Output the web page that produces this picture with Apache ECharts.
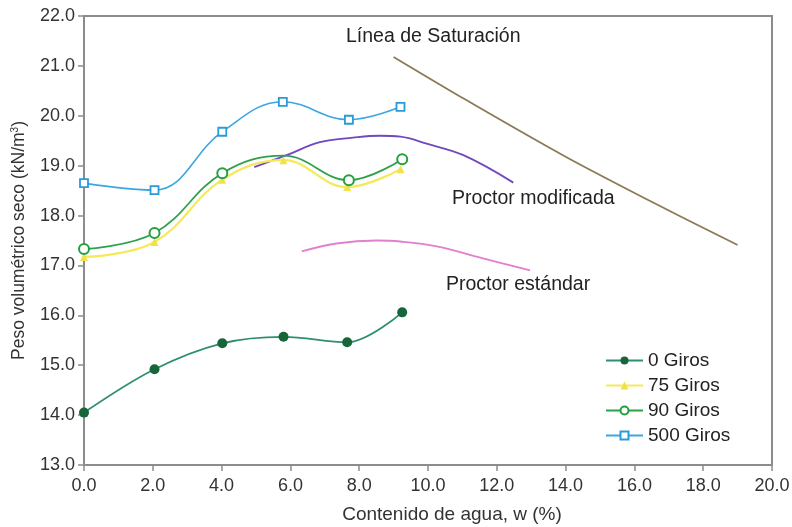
<!DOCTYPE html>
<html>
<head>
<meta charset="utf-8">
<script src="https://cdn.jsdelivr.net/npm/echarts@6/dist/echarts.min.js"></script>
<style>html,body{margin:0;padding:0;background:#fff}#c{width:792px;height:527px}</style>
</head>
<body>
<div id="c"></div>
<script>
var xTicks = [0,2,4,6,8,10,12,14,16,18,20];
var yTicks = [13,14,15,16,17,18,19,20,21,22];

var giros0 = [[0,14.05],[2.05,14.92],[4.02,15.44],[5.8,15.57],[7.65,15.46],[9.25,16.06]];
var giros75 = [[0,17.17],[2.05,17.47],[4.02,18.72],[5.8,19.11],[7.65,18.57],[9.2,18.93]];
var giros90 = [[0,17.33],[2.05,17.65],[4.02,18.85],[5.8,19.2],[7.7,18.71],[9.25,19.13]];
var giros500 = [[0,18.65],[2.05,18.51],[4.02,19.68],[5.78,20.28],[7.7,19.92],[9.2,20.18]];
var proctorMod = [[4.95,18.97],[5.89,19.21],[6.86,19.47],[7.82,19.56],[8.6,19.6],[9.2,19.58],[9.96,19.44],[11.03,19.21],[12.48,18.66]];
var proctorStd = [[6.33,17.28],[7.34,17.44],[8.51,17.5],[9.19,17.48],[10.25,17.38],[11.6,17.14],[12.97,16.9]];
var saturacion = [[9.0,21.18],[11.1,20.32],[14.0,19.18],[17.0,18.1],[19.0,17.41]];

var chart = echarts.init(document.getElementById('c'));
var font = 'Liberation Sans, Arial, sans-serif';
var axisCol = '#8c8c8c';
chart.setOption({
  animation: false,
  grid: {left: 84, right: 20, top: 16, bottom: 62, show: true, borderColor: axisCol, borderWidth: 2, containLabel: false, outerBoundsMode: 'none'},
  xAxis: {
    type: 'value', min: 0, max: 20, interval: 2,
    name: 'Contenido de agua, w (%)', nameLocation: 'middle', nameGap: 40,
    nameTextStyle: {fontFamily: font, fontSize: 19, color: '#333', padding: [0, 0, 0, 48]},
    axisLine: {lineStyle: {color: axisCol, width: 2}},
    axisTick: {show: true, length: 6, lineStyle: {color: axisCol, width: 1.5}},
    axisLabel: {fontFamily: font, fontSize: 18, color: '#333', margin: 12, formatter: function(v){return v.toFixed(1);}},
    splitLine: {show: false}
  },
  yAxis: {
    type: 'value', min: 13, max: 22, interval: 1,
    name: 'Peso volumétrico seco (kN/m{sup|3})', nameLocation: 'middle', nameGap: 56,
    nameTextStyle: {fontFamily: font, fontSize: 17.5, color: '#333', rich: {sup: {fontFamily: font, fontSize: 10, color: '#333', verticalAlign: 'top', padding: [0,0,8,0]}}},
    axisLine: {show: true, lineStyle: {color: axisCol, width: 2}},
    axisTick: {show: true, length: 6, lineStyle: {color: axisCol, width: 1.5}},
    axisLabel: {fontFamily: font, fontSize: 18, color: '#333', margin: 9, formatter: function(v){return v.toFixed(1);}},
    splitLine: {show: false}
  },
  legend: {
    data: ['0 Giros','75 Giros','90 Giros','500 Giros'],
    orient: 'vertical', left: 600, top: 346, itemWidth: 37, itemHeight: 10, itemGap: 6,
    textStyle: {fontFamily: font, fontSize: 19, color: '#222'}
  },
  graphic: [
    {type: 'text', left: 346, top: 27, style: {text: 'Línea de Saturación', font: '19.5px ' + font, fill: '#222'}},
    {type: 'text', left: 452, top: 189, style: {text: 'Proctor modificada', font: '19.5px ' + font, fill: '#222'}},
    {type: 'text', left: 446, top: 275, style: {text: 'Proctor estándar', font: '19.5px ' + font, fill: '#222'}}
  ],
  series: [
    {name: 'Línea de Saturación', type: 'line', data: saturacion, smooth: 0.3, symbol: 'none', lineStyle: {color: '#8a7a55', width: 1.8}},
    {name: 'Proctor modificada', type: 'line', data: proctorMod, smooth: 0.4, symbol: 'none', lineStyle: {color: '#7048c0', width: 1.8}},
    {name: 'Proctor estándar', type: 'line', data: proctorStd, smooth: 0.4, symbol: 'none', lineStyle: {color: '#e27fcf', width: 1.8}},
    {name: '75 Giros', type: 'line', data: giros75, smooth: 0.4, symbol: 'triangle', symbolSize: 8,
      itemStyle: {color: '#f2e24a'}, lineStyle: {color: '#f5e95a', width: 2.2}},
    {name: '90 Giros', type: 'line', data: giros90.map(function(d, i){ return i === 3 ? {value: d, symbol: 'none'} : d; }), smooth: 0.4, symbol: 'circle', symbolSize: 10,
      itemStyle: {color: '#fff', borderColor: '#22a03c', borderWidth: 2}, lineStyle: {color: '#2fa04a', width: 1.8}},
    {name: '500 Giros', type: 'line', data: giros500, smooth: 0.4, symbol: 'rect', symbolSize: 8,
      itemStyle: {color: '#fff', borderColor: '#2a9ad8', borderWidth: 1.8}, lineStyle: {color: '#3aa7e2', width: 1.6}},
    {name: '0 Giros', type: 'line', data: giros0, smooth: 0.35, symbol: 'circle', symbolSize: 10,
      itemStyle: {color: '#17663a'}, lineStyle: {color: '#2e8f70', width: 1.8}}
  ]
});
</script>
</body>
</html>
